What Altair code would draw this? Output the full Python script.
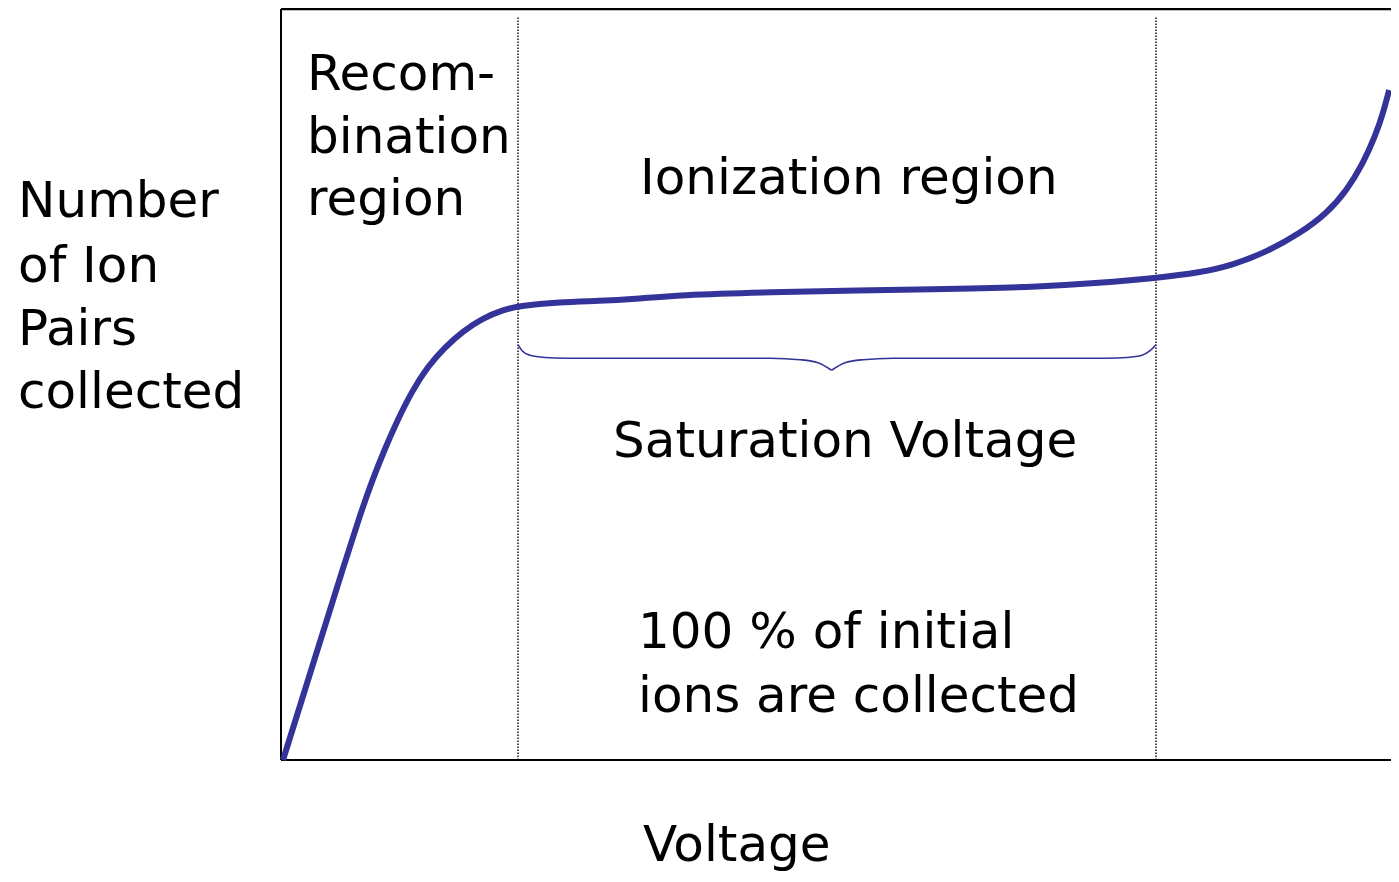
import altair as alt
import pandas as pd

# --- data (arbitrary 0-100 units) ---
volt = [0.18, 2.95, 5.72, 7.07, 8.14, 9.21, 10.38, 11.72, 13.15, 14.67,
        16.28, 18.07, 19.86, 21.20, 24.96, 28.53, 31.57, 35.60, 43.56, 59.57,
        67.53, 73.26, 78.26, 82.20, 85.15, 88.19, 91.14, 93.56, 95.35, 96.78,
        97.85, 98.57, 99.11]
ions = [0.0, 13.18, 26.36, 32.62, 37.15, 41.15, 45.14, 49.13, 52.46, 54.99,
        57.12, 58.86, 59.92, 60.45, 60.99, 61.12, 61.38, 61.92, 62.32, 62.72,
        62.98, 63.52, 64.18, 64.89, 65.91, 67.68, 70.13, 72.80, 75.90, 79.45,
        83.00, 86.11, 89.21]

# region boundaries (dotted lines)
bound_x = [21.20, 78.26]
bound_top = [98.9, 98.9]

# saturation brace
brace_x = [21.20, 21.56, 22.27, 23.61, 25.40, 43.74, 46.42, 48.03, 49.24,
           49.24, 50.45, 52.06, 54.74, 73.88, 75.67, 77.01, 77.73, 78.26]
brace_y = [55.3, 54.5, 53.9, 53.6, 53.5, 53.5, 53.3, 52.9, 51.9,
           51.9, 52.9, 53.3, 53.5, 53.5, 53.6, 53.9, 54.5, 55.3]
brace_side = ["left"] * 9 + ["right"] * 9

# text annotations (region labels and axis titles)
label_text = ["Recom-", "bination", "region", "Ionization region",
              "Saturation Voltage", "100 % of initial", "ions are collected",
              "Number", "of Ion", "Pairs", "collected", "Voltage"]
label_x = [2.33, 2.33, 2.33, 32.11, 29.70, 31.93, 31.93,
           -23.52, -23.52, -23.52, -23.52, 32.38]
label_y = [89.2, 80.8, 72.6, 75.4, 40.4, 14.9, 6.4,
           72.3, 63.65, 55.26, 46.87, -13.4]

# plot frame (domain edges)
frame_x = [0]
frame_y = [0, 100]
frame_w = [2, 2.6]

FONT = "DejaVu Sans"
CURVE = "#333399"

xs = alt.Scale(domain=[0, 99.28], nice=False, zero=False)
ys = alt.Scale(domain=[0, 100], nice=False, zero=False)

curve_df = pd.DataFrame({"v": volt, "n": ions})
bound_df = pd.DataFrame({"x": bound_x, "y0": [0, 0], "y1": bound_top})
brace_df = pd.DataFrame({"x": brace_x, "y": brace_y, "side": brace_side})
label_df = pd.DataFrame({"x": label_x, "y": label_y, "t": label_text})
vframe_df = pd.DataFrame({"x": frame_x})
hframe_df = pd.DataFrame({"y": frame_y, "w": frame_w})

curve = alt.Chart(curve_df).mark_line(
    color=CURVE, strokeWidth=6, interpolate="basis", strokeCap="butt"
).encode(
    x=alt.X("v:Q", scale=xs, axis=None),
    y=alt.Y("n:Q", scale=ys, axis=None),
    order=alt.Order("v:Q"),
)

bounds = alt.Chart(bound_df).mark_rule(
    color="black", strokeWidth=1.4, strokeDash=[1.5, 1.5]
).encode(
    x=alt.X("x:Q", scale=xs, axis=None),
    y=alt.Y("y0:Q", scale=ys, axis=None),
    y2="y1:Q",
)

left_line = alt.Chart(vframe_df).mark_rule(color="black", strokeWidth=2).encode(
    x=alt.X("x:Q", scale=xs, axis=None)
)
h_lines = alt.Chart(hframe_df).mark_rule(color="black").encode(
    y=alt.Y("y:Q", scale=ys, axis=None),
    strokeWidth=alt.StrokeWidth("w:Q", scale=None, legend=None),
)

brace = alt.Chart(brace_df).mark_line(
    color=CURVE, strokeWidth=1.6, interpolate="monotone"
).encode(
    x=alt.X("x:Q", scale=xs, axis=None),
    y=alt.Y("y:Q", scale=ys, axis=None),
    detail="side:N",
)

labels = alt.Chart(label_df).mark_text(
    align="left", baseline="alphabetic", font=FONT, fontSize=50, color="black"
).encode(
    x=alt.X("x:Q", scale=xs, axis=None),
    y=alt.Y("y:Q", scale=ys, axis=None),
    text="t:N",
)

chart = alt.layer(
    bounds, left_line, h_lines, brace, curve, labels
).properties(
    width=1110,
    height=751,
    background="white",
    autosize=alt.AutoSizeParams(type="none"),
    padding={"left": 273, "top": 1, "right": 0, "bottom": 114},
).configure_view(stroke=None)

chart.save("out.html", embed_options={"renderer": "svg", "actions": False})
